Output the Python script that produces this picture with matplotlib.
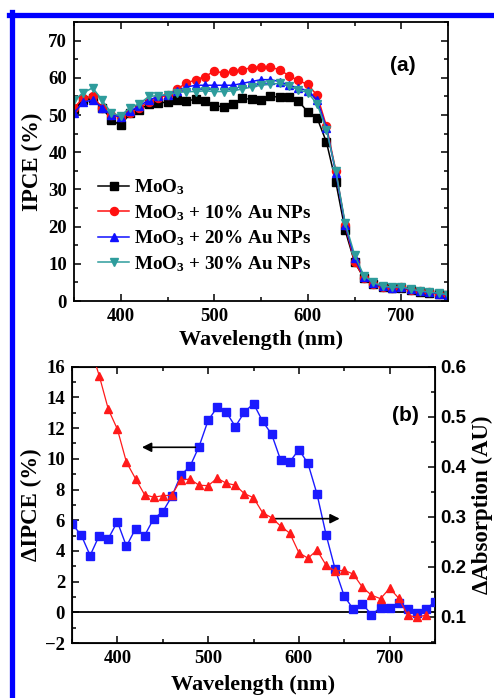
import matplotlib
matplotlib.use("Agg")
import matplotlib.pyplot as plt
from matplotlib.lines import Line2D
from matplotlib.ticker import MultipleLocator

plt.rcParams['font.family'] = ['Liberation Serif', 'DejaVu Serif']
plt.rcParams['font.weight'] = 'bold'
plt.rcParams['mathtext.fontset'] = 'custom'
plt.rcParams['mathtext.rm'] = 'Liberation Serif:bold'
plt.rcParams['mathtext.it'] = 'Liberation Serif:bold'
plt.rcParams['mathtext.bf'] = 'Liberation Serif:bold'
plt.rcParams['mathtext.default'] = 'rm'

# ---------------- data ----------------
wl = list(range(350, 751, 10))

ipce_moo3 = [51.5, 54, 54.5, 52, 48.7, 47.2, 50.5, 51.4, 53, 53.2, 53.5, 54, 53.8, 54.2, 53.8,
             52.5, 52.2, 53, 54.5, 54.2, 54, 55, 54.8, 54.8, 53.8, 50.8, 49.2, 42.7, 32, 19,
             10.5, 6.2, 4.5, 3.8, 3.5, 3.6, 3.0, 2.5, 2.2, 2.0, 1.5]
ipce_10 = [52, 54.5, 55, 52, 50, 49.5, 50.5, 52, 53.5, 54.5, 55.5, 57, 58.5, 59.5, 60.3,
           61.8, 61.3, 61.7, 62.2, 62.7, 63, 62.8, 62.2, 60.5, 59.3, 58.2, 55.3, 47, 35, 20.5,
           10.5, 6.3, 4.5, 3.8, 3.6, 3.7, 3.0, 2.6, 2.3, 2.0, 1.5]
ipce_20 = [50.5, 53.5, 54, 52, 50, 49.5, 51, 52.5, 54, 55, 55.5, 56.5, 57.5, 58, 58,
           58, 58, 58, 58.5, 59, 59.5, 59.5, 59, 58, 57.3, 56.5, 54, 46.5, 34.5, 20.5,
           11.5, 6.5, 4.8, 3.9, 3.6, 3.7, 3.1, 2.6, 2.3, 2.0, 1.6]
ipce_30 = [54, 56, 57.3, 54, 50.5, 49.8, 52, 53, 55, 55.2, 55.5, 56, 56.3, 56.3, 56.5,
           56.3, 56.3, 56.5, 57, 57.5, 58, 58.3, 58.5, 57.7, 56.8, 56, 53, 46, 35, 21,
           12.5, 6.8, 5.0, 4.0, 3.7, 3.8, 3.2, 2.7, 2.4, 2.1, 1.7]

d_ipce = [5.75, 5.05, 3.7, 5.0, 4.8, 5.9, 4.3, 5.45, 5.0, 6.1, 6.55, 7.55, 8.95, 9.5, 10.8,
          12.5, 13.36, 13.04, 12.1, 13.04, 13.6, 12.45, 11.6, 9.9, 9.8, 10.6, 9.7, 7.7, 5.05, 2.8,
          1.05, 0.2, 0.55, -0.15, 0.3, 0.3, 0.6, 0.2, -0.05, 0.2, 0.7]

wl_abs = list(range(370, 741, 10))
d_abs = [0.64, 0.582, 0.515, 0.475, 0.409, 0.376, 0.344, 0.339, 0.342, 0.343, 0.374, 0.375,
         0.363, 0.362, 0.377, 0.367, 0.363, 0.346, 0.338, 0.308, 0.298, 0.281, 0.267, 0.228,
         0.217, 0.233, 0.203, 0.191, 0.193, 0.185, 0.159, 0.143, 0.136, 0.157, 0.137, 0.103,
         0.099, 0.103]

labels = [r'MoO$_3$', r'MoO$_3$ + 10% Au NPs', r'MoO$_3$ + 20% Au NPs', r'MoO$_3$ + 30% Au NPs']
colors = ['#000000', '#ff1010', '#1010ff', '#2e9c9c']
markers = ['s', 'o', '^', 'v']

# ---------------- figure ----------------
fig = plt.figure(figsize=(4.94, 6.98), dpi=100)

# blue frame
fig.add_artist(Line2D([9/494, 1.0], [1-14.5/698, 1-14.5/698], color='#0000ff', lw=3.8,
                      transform=fig.transFigure))
fig.add_artist(Line2D([11.5/494, 11.5/494], [0.0, 1-12/698], color='#0000ff', lw=3.8,
                      transform=fig.transFigure))

tick_fs = 13.5
label_fs = 16

def style_axes(ax):
    ax.tick_params(which='both', direction='in', top=True, labelsize=tick_fs, width=1.1)
    ax.tick_params(which='major', length=5, pad=5)
    ax.tick_params(which='minor', length=3)
    for s in ax.spines.values():
        s.set_linewidth(1.3)
    for lbl in ax.get_xticklabels() + ax.get_yticklabels():
        lbl.set_fontweight('bold')

# ---- panel (a)
ax1 = fig.add_axes([74/494, 1-301/698, (448-74)/494, (301-22)/698])
series = [ipce_moo3, ipce_10, ipce_20, ipce_30]
for vals, lab, c, m in zip(series, labels, colors, markers):
    ax1.plot(wl, vals, color=c, marker=m, markersize=5.8, lw=1.1, label=lab)
ax1.set_xlim(350, 750)
ax1.set_ylim(0, 75)
ax1.xaxis.set_major_locator(MultipleLocator(100))
ax1.xaxis.set_minor_locator(MultipleLocator(50))
ax1.yaxis.set_major_locator(MultipleLocator(10))
ax1.yaxis.set_minor_locator(MultipleLocator(5))
ax1.tick_params(which='both', right=True)
style_axes(ax1)
ax1.set_xlabel('Wavelength (nm)', fontsize=label_fs, fontweight='bold', labelpad=4)
ax1.set_ylabel('IPCE (%)', fontsize=label_fs + 0.5, fontweight='bold', labelpad=4)
ax1.text(702, 63.3, '(a)', fontsize=15, fontweight='bold', family='Liberation Sans',
         ha='center', va='center')
leg = ax1.legend(loc='upper left', bbox_to_anchor=(0.045, 0.47), frameon=False,
                 fontsize=13.8, handlelength=1.6, handletextpad=0.25, labelspacing=0.3,
                 borderaxespad=0)
for t in leg.get_texts():
    t.set_fontweight('bold')

# ---- panel (b)
ax2 = fig.add_axes([72/494, 1-643/698, (435-72)/494, (643-366.7)/698])
ax2.plot(wl, d_ipce, color='#1a1aff', marker='s', markersize=5.8, lw=1.0, zorder=3)
ax2.axhline(0, color='black', lw=1.3, zorder=2)
ax2.set_xlim(350, 750)
ax2.set_ylim(-2, 16)
ax2.xaxis.set_major_locator(MultipleLocator(100))
ax2.xaxis.set_minor_locator(MultipleLocator(50))
ax2.yaxis.set_major_locator(MultipleLocator(2))
ax2.yaxis.set_minor_locator(MultipleLocator(1))
style_axes(ax2)
ax2.set_xlabel('Wavelength (nm)', fontsize=label_fs, fontweight='bold', labelpad=6)
ax2.set_ylabel('\u0394IPCE (%)', fontsize=label_fs + 0.5, fontweight='bold', labelpad=2)
ax2.text(717, 12.8, '(b)', fontsize=15, fontweight='bold', family='Liberation Sans',
         ha='center', va='center')
ax2.annotate('', xy=(424, 10.75), xytext=(489, 10.75),
             arrowprops=dict(arrowstyle='-|>', color='black', lw=1.2, mutation_scale=14))
ax2.annotate('', xy=(648, 6.1), xytext=(570, 6.1),
             arrowprops=dict(arrowstyle='-|>', color='black', lw=1.2, mutation_scale=14))

ax3 = ax2.twinx()
ax3.plot(wl_abs, d_abs, color='#ff1a1a', marker='^', markersize=6.3, lw=0.9, zorder=3)
ax3.set_ylim(0.0474, 0.6)
ax3.yaxis.set_major_locator(MultipleLocator(0.1))
ax3.yaxis.set_minor_locator(MultipleLocator(0.05))
ax3.tick_params(which='both', direction='in', labelsize=tick_fs, width=1.1)
ax3.tick_params(which='major', length=5, pad=4)
ax3.tick_params(which='minor', length=3)
for lbl in ax3.get_yticklabels():
    lbl.set_fontweight('bold')
    lbl.set_family('Liberation Sans')
ax3.set_ylabel('\u0394Absorption (AU)', fontsize=label_fs + 0.5, fontweight='bold', labelpad=4)
ax2.tick_params(which='both', right=False)

fig.savefig('out.png', dpi=100)
